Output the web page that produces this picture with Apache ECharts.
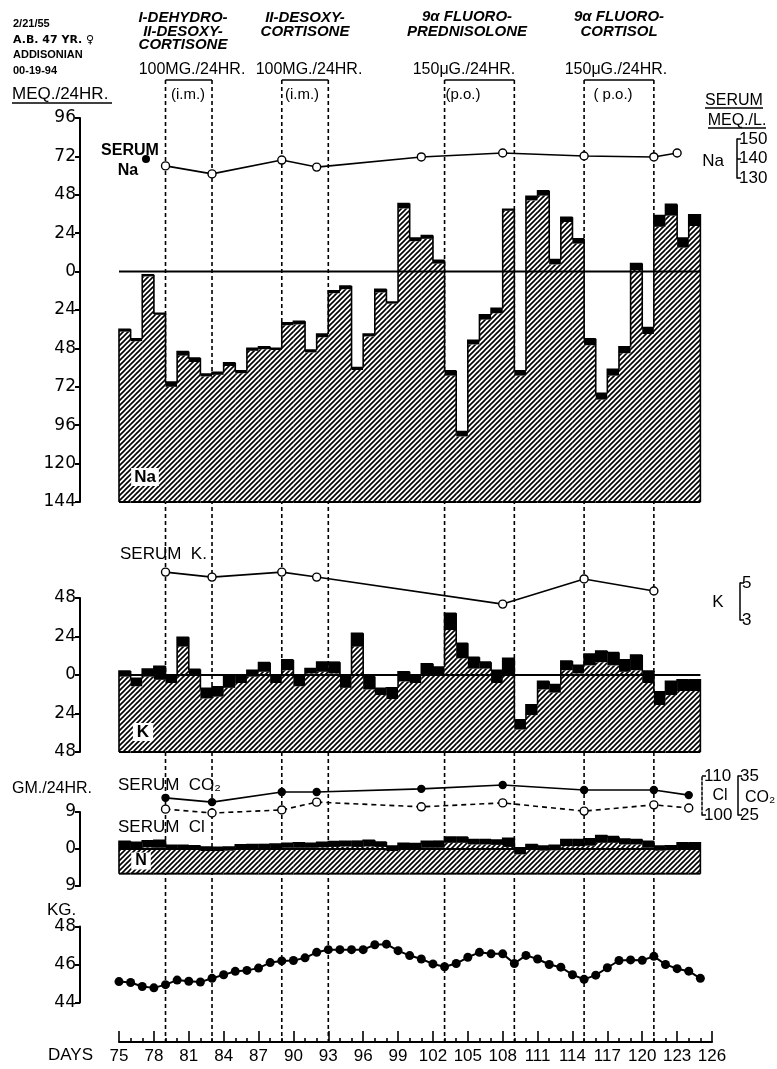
<!DOCTYPE html>
<html><head><meta charset="utf-8">
<script src="https://cdn.jsdelivr.net/npm/echarts@6/dist/echarts.min.js"></script>
<style>html,body{margin:0;padding:0;background:#fff}#c{width:777px;height:1069px}</style>
</head><body><div id="c"></div>
<script>
// ---------- DATA ----------
const barDays = [75,76,77,78,79,80,81,82,83,84,85,86,87,88,89,90,91,92,93,94,95,96,97,98,99,100,101,102,103,104,105,106,107,108,109,110,111,112,113,114,115,116,117,118,119,120,121,122,123,124];
// Na balance: level of top of total output (mEq/24hr, + above zero line), fecal part (black)
const naTotal = [-36,-42,-2,-26,-69,-50,-54,-64,-63,-57,-62,-48,-47,-48,-32,-31,-49,-39,-12,-9,-60,-39,-11,-19,42.5,21,22.5,7,-62,-100,-43,-27,-23,39,-62,47,50.5,7.5,34,20.5,-42,-76,-61,-47,5,-35,35,42,21,35.5];
const naFecal = [1.5,1.5,1,1,3,2.5,2.5,1.5,1.5,2,1.5,1.5,1.5,1,1.5,2,1.5,2,1.5,2,1.5,1.5,2,1,3,2,2,2,3,3,2.5,3,3,1,3,2.5,3,3,3,3,4,4,4,4,4,4,7,7,6,7];
// K balance: urine level (hatched top) and total level (black top)
const kUrine = [-1,-7,-1,-3,-5,17.7,0,-14.6,-13.5,-8,-5,-1,2,-5,3,-7,1,2,1,-8,17.7,-9,-12.5,-15,-4,-5,0,0,28,10.4,4,4,-5,0,-34,-25,-9,-11,3,1,6,8,6,2,3,-5,-18.7,-12.5,-10,-10];
const kTotal = [2.5,-2,3.7,5.5,-1,23.5,3.5,-8.3,-7.3,-1,-1,3,7.7,0,9.4,-1,4,8,8,-0.6,26,-1,-8.3,-8,2,0,7,5,38.5,19.8,11,8,3,10.4,-28,-18.5,-4,-6,8.7,6,13,15,14,9.4,12.5,2.5,-10.4,-4,-3,-3];
// N balance (gm/24hr)
const nUrine = [0.2,0.2,0.4,0.3,0.1,0.1,0,-0.5,-0.5,-0.4,0,0.1,0.1,0.2,0.3,0.3,0.3,0.4,0.5,0.6,0.5,0.6,0.5,-0.5,0.2,0.2,0.3,0.3,1.5,1.5,1.1,1.1,1.0,0.5,-1.3,-0.2,-0.4,-0.3,0.7,0.7,0.8,1.5,1.5,1.1,1.1,0.3,-0.4,-0.3,0.1,0.2];
const nTotal = [1.9,1.6,2.0,2.1,0.9,0.9,0.8,0.5,0.4,0.5,1.0,1.1,1.1,1.2,1.4,1.5,1.4,1.6,1.8,1.9,1.9,2.1,1.7,0.7,1.4,1.3,1.9,1.9,2.9,2.9,2.3,2.3,2.2,2.6,0.3,1.1,0.7,0.9,2.3,2.3,2.5,3.3,3.0,2.4,2.3,1.9,0.7,0.8,1.5,1.5];
const naBottom = -144, kBottom = -48, nBottom = -6;
// Body weight (kg)
const weightDays = [75,76,77,78,79,80,81,82,83,84,85,86,87,88,89,90,91,92,93,94,95,96,97,98,99,100,101,102,103,104,105,106,107,108,109,110,111,112,113,114,115,116,117,118,119,120,121,122,123,124,125];
const weight = [45.10,45.05,44.84,44.77,44.94,45.18,45.12,45.08,45.27,45.46,45.64,45.69,45.81,46.10,46.19,46.21,46.35,46.64,46.78,46.78,46.78,46.78,47.04,47.07,46.73,46.47,46.29,46.03,45.88,46.05,46.38,46.64,46.56,46.56,46.05,46.48,46.29,46.00,45.86,45.46,45.22,45.44,45.83,46.21,46.24,46.22,46.43,46.00,45.78,45.65,45.27];
// Serum values (mEq/L)
const serumNaDays = [79,83,89,92,101,108,115,121,123];
const serumNa = [136.2,132.1,139.2,135.6,140.8,142.8,141.3,140.8,142.8];
const serumKDays = [79,83,89,92,108,115,121];
const serumK = [5.59,5.32,5.59,5.32,3.86,5.22,4.57];
const serumGasDays = [79,83,89,92,101,108,115,121,124];
const serumCO2 = [29.4,28.3,30.9,30.9,31.7,32.7,31.4,31.4,30.1];
const serumCl = [101.5,100.5,101.3,103.3,102.1,103.1,101.0,102.6,101.8];
// Treatment periods
const drugStart = [79,89,103,115];
const drugEnd = [83,93,109,121];
const drugNames = [["I-DEHYDRO-","II-DESOXY-","CORTISONE"],["II-DESOXY-","CORTISONE"],["9α FLUORO-","PREDNISOLONE"],["9α FLUORO-","CORTISOL"]];
const drugDoses = ["100MG./24HR.","100MG./24HR.","150μG./24HR.","150μG./24HR."];
const drugRoutes = ["(i.m.)","(i.m.)","(p.o.)","( p.o.)"];
// ---------- STYLE ----------
const F = "'Liberation Sans', Arial, sans-serif";
const FA = "'DejaVu Sans', 'Liberation Sans', sans-serif";
const pc = document.createElement('canvas'); pc.width = 5; pc.height = 5;
const g2 = pc.getContext('2d'); g2.fillStyle = '#fff'; g2.fillRect(0,0,5,5);
g2.strokeStyle = '#000'; g2.lineWidth = 1.6; g2.beginPath();
g2.moveTo(-1,6); g2.lineTo(6,-1); g2.moveTo(-1,1); g2.lineTo(1,-1); g2.moveTo(4,6); g2.lineTo(6,4); g2.stroke();
const hatch = {image: pc, repeat: 'repeat'};

const chart = echarts.init(document.getElementById('c'));
const L = 119, W = 593;
const gridDefs = [
  {top:118, height:384},   //0 Na balance
  {top:139, height:39},    //1 serum Na
  {top:598, height:154},   //2 K balance
  {top:583, height:37},    //3 serum K
  {top:776, height:39},    //4 serum Cl / CO2
  {top:812, height:74},    //5 N balance
  {top:926.5, height:76},  //6 weight
  {top:80, height:962}     //7 overlay (treatment lines)
];
const grid = gridDefs.map(g => Object.assign({left:L, width:W, outerBoundsMode:'none', containLabel:false}, g));
const xAxis = gridDefs.map((g,i) => {
  const base = {gridIndex:i, type:'value', min:75, max:126, interval:3, splitLine:{show:false}};
  if (i !== 6) return Object.assign(base, {show:false});
  return Object.assign(base, {
    position:'bottom', offset:39.5,
    axisLine:{lineStyle:{color:'#000', width:2}},
    axisTick:{inside:true, length:11, lineStyle:{color:'#000', width:1.6}},
    minorTick:{show:true, splitNumber:3, length:4, lineStyle:{color:'#000', width:1.6}},
    axisLabel:{margin:6, color:'#000', fontFamily:F, fontSize:17}
  });
});
function leftAxis(gi, min, max, interval) {
  return {gridIndex:gi, type:'value', min, max, interval, position:'left', offset:39,
    splitLine:{show:false},
    axisLine:{show:true, lineStyle:{color:'#000', width:2}},
    axisTick:{show:true, length:5, lineStyle:{color:'#000', width:2}},
    axisLabel:{color:'#000', fontFamily:FA, fontSize:17, margin:4, formatter: v => String(Math.abs(v))}};
}
function rightAxis(gi, min, max, interval, offset, dashed) {
  return {gridIndex:gi, type:'value', min, max, interval, position:'right', offset,
    splitLine:{show:false},
    axisLine:{show:true, lineStyle:{color:'#000', width:1.5, type: dashed ? [3,2] : 'solid'}},
    axisTick:{show:true, length:4, lineStyle:{color:'#000', width:1.5}},
    axisLabel:{color:'#000', fontFamily:F, fontSize:17, margin:2}};
}
const yAxis = [
  leftAxis(0, -144, 96, 24),
  rightAxis(1, 130, 150, 10, 25),
  leftAxis(2, -48, 48, 24),
  rightAxis(3, 3, 5, 2, 28),
  rightAxis(4, 100, 110, 10, -10, true),
  rightAxis(4, 25, 35, 10, 26),
  leftAxis(5, -9, 9, 9),
  leftAxis(6, 44, 48, 2),
  {gridIndex:7, type:'value', min:0, max:1, show:false}
];

function balanceSeries(ax, urine, total, bottom) {
  return {
    type:'custom', xAxisIndex:ax, yAxisIndex:ax === 5 ? 6 : ax, z:3, clip:false,
    data: barDays.map((d,i) => [d, urine[i], total[i]]),
    renderItem(params, api) {
      const i = params.dataIndex;
      const d = api.value(0), u = api.value(1), t = api.value(2);
      const pL = api.coord([d, bottom]), pR = api.coord([d + 1, bottom]);
      const x0 = pL[0], w = pR[0] - pL[0], yB = pL[1];
      const yU = api.coord([d, u])[1], yT = api.coord([d, t])[1];
      const prev = i > 0 ? total[i - 1] : bottom;
      const yP = api.coord([d, prev])[1];
      const pts = [[x0, yP], [x0, yT], [x0 + w, yT]];
      if (i === barDays.length - 1) pts.push([x0 + w, yB]);
      return {type:'group', children:[
        {type:'rect', shape:{x:x0, y:Math.min(yU, yB), width:w + 0.3, height:Math.abs(yB - yU)}, style:{fill:hatch}},
        {type:'rect', shape:{x:x0, y:Math.min(yT, yU), width:w + 0.3, height:Math.abs(yU - yT)}, style:{fill:'#000'}},
        {type:'polyline', shape:{points:pts}, style:{stroke:'#000', lineWidth:1.6, fill:null}},
        {type:'line', shape:{x1:x0, y1:yB, x2:x0 + w, y2:yB}, style:{stroke:'#000', lineWidth:2}}
      ]};
    }
  };
}
function zeroLine(xi, yi) {
  return {type:'line', xAxisIndex:xi, yAxisIndex:yi, z:4, symbol:'none', silent:true,
    data:[[barDays[0], 0], [barDays[barDays.length - 1] + 1, 0]], lineStyle:{color:'#000', width:2}};
}
function serumLine(xi, yi, days, vals, filled, dashed) {
  return {type:'line', xAxisIndex:xi, yAxisIndex:yi, z:5, clip:false,
    data: days.map((d,i) => [d, vals[i]]),
    symbol:'circle', symbolSize: filled ? 7 : 8, showAllSymbol:true,
    itemStyle:{color: filled ? '#000' : '#fff', borderColor:'#000', borderWidth:1.4},
    lineStyle:{color:'#000', width:1.6, type: dashed ? [5,4] : 'solid'}};
}
const naUrine = naTotal.map((t,i) => t - naFecal[i]);

const series = [
  {type:'custom', xAxisIndex:7, yAxisIndex:8, z:1, clip:false,
   data: drugStart.map((s,i) => [s, drugEnd[i]]),
   renderItem(params, api) {
     const s = api.value(0), e = api.value(1);
     const a = api.coord([s,1]), b = api.coord([e,1]), a0 = api.coord([s,0]), b0 = api.coord([e,0]);
     const ds = {stroke:'#000', lineWidth:1.6, lineDash:[4,3]};
     return {type:'group', children:[
       {type:'line', shape:{x1:a[0], y1:a[1], x2:b[0], y2:b[1]}, style:{stroke:'#000', lineWidth:1.6}},
       {type:'line', shape:{x1:a[0], y1:a[1], x2:a0[0], y2:a0[1]}, style:ds},
       {type:'line', shape:{x1:b[0], y1:b[1], x2:b0[0], y2:b0[1]}, style:ds}
     ]};
   }},
  balanceSeries(0, naUrine, naTotal, naBottom),
  zeroLine(0, 0),
  serumLine(1, 1, serumNaDays, serumNa, false, false),
  balanceSeries(2, kUrine, kTotal, kBottom),
  zeroLine(2, 2),
  serumLine(3, 3, serumKDays, serumK, false, false),
  serumLine(4, 5, serumGasDays, serumCO2, true, false),
  serumLine(4, 4, serumGasDays, serumCl, false, true),
  balanceSeries(5, nUrine, nTotal, nBottom),
  zeroLine(5, 6),
  {type:'line', xAxisIndex:6, yAxisIndex:7, z:5, data: weightDays.map((d,i) => [d, weight[i]]),
   symbol:'circle', symbolSize:9, showAllSymbol:true, itemStyle:{color:'#000'}, lineStyle:{color:'#000', width:2}}
];

// ---------- TEXT ----------
const gfx = [];
function txt(text, x, y, font, align, extra) {
  gfx.push(Object.assign({type:'text', z:100, x, y, style:Object.assign({text, font, fill:'#000',
    align: align || 'left', verticalAlign:'middle', textAlign: align || 'left', textVerticalAlign:'middle'}, extra || {})}));
}
function uline(x1, x2, y) {
  gfx.push({type:'line', z:100, shape:{x1, y1:y, x2, y2:y}, style:{stroke:'#000', lineWidth:1.5}});
}
const SB = "bold 11px " + F;
txt("2/21/55", 13, 24, SB); txt("A.B. 47 YR. ♀", 13, 40, "bold 11px 'DejaVu Sans', sans-serif"); txt("ADDISONIAN", 13, 55, SB); txt("00-19-94", 13, 71, SB);
txt("MEQ./24HR.", 12, 94, "17px " + F); uline(12, 112, 103);
const nameX = [183, 305, 467, 619];
const doseX = [192, 309, 464, 616];
const routeX = [188, 302, 463, 613];
const nameY = [[18, 32, 45], [18, 32], [16.5, 31.5], [16.5, 31.5]];
drugNames.forEach((lines, i) => {
  lines.forEach((ln, j) => txt(ln, nameX[i], nameY[i][j], "italic bold 15px " + F, 'center'));
  txt(drugDoses[i], doseX[i], 70, "16px " + F, 'center');
  txt(drugRoutes[i], routeX[i], 95, "15px " + F, 'center');
});
txt("SERUM", 130, 151, "bold 16px " + F, 'center');
txt("Na", 128, 171, "bold 16px " + F, 'center');
gfx.push({type:'circle', z:101, shape:{cx:146, cy:159, r:4}, style:{fill:'#000'}});
txt("SERUM", 734, 101, "16px " + F, 'center'); uline(705, 763, 108);
txt("MEQ./L.", 737, 121, "16px " + F, 'center'); uline(708, 766, 128);
txt("Na", 713, 161, "17px " + F, 'center');
txt("Na", 145, 477, "bold 17px " + F, 'center', {backgroundColor:'#fff', padding:[1,3,0,3]});
txt("SERUM  K.", 120, 554, "17px " + F);
txt("K", 718, 602, "17px " + F, 'center');
txt("K", 143, 732, "bold 17px " + F, 'center', {backgroundColor:'#fff', padding:[1,4,0,4]});
txt("GM./24HR.", 12, 789, "16px " + F);
txt("SERUM  CO₂", 118, 785, "17px " + F);
txt("SERUM  Cl", 118, 827, "17px " + F);
txt("N", 141, 861, "bold 16px " + F, 'center', {backgroundColor:'#fff', padding:[1,4,0,4]});
txt("Cl", 720, 796, "16px " + F, 'center');
txt("CO₂", 760, 798, "16px " + F, 'center');
txt("KG.", 47, 910, "17px " + F);
txt("DAYS", 48, 1055, "17px " + F);

chart.setOption({animation:false, backgroundColor:'#fff', grid, xAxis, yAxis, series, graphic:{elements:gfx}});
</script></body></html>
